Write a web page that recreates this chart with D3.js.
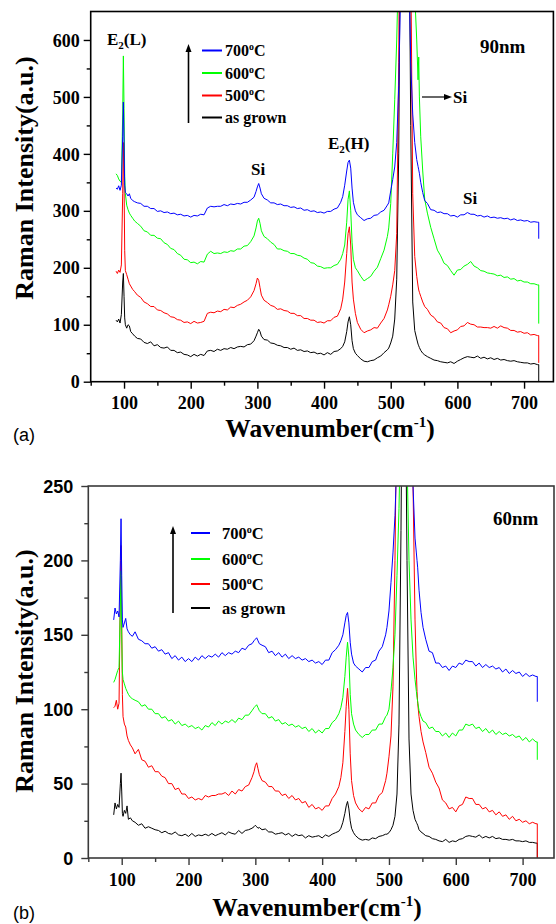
<!DOCTYPE html>
<html>
<head>
<meta charset="utf-8">
<script src="https://cdn.jsdelivr.net/npm/d3@7"></script>
<style>
  body { margin: 0; background: #fff; }
  svg { display: block; }
</style>
</head>
<body>
<svg id="chart" width="556" height="924"></svg>
<script>
// Raman shift grid (cm^-1), shared by every spectrum below
const wavenumber = [
  88,90,92,94,96,98,99,100,101,102,104,106,108,110,113,116,120,
  125,130,135,140,145,150,155,160,165,170,175,180,185,190,195,200,205,210,215,220,225,230,235,240,245,250,255,260,265,270,275,280,285,290,295,
  298,300,302,304,306,310,
  315,320,325,330,335,340,345,350,355,360,365,370,375,380,385,390,395,400,405,410,415,420,
  425,428,431,434,436,438,440,442,444,447,450,
  455,460,465,470,475,480,485,490,495,
  497,500,503,506,509,512,515,518,521,524,527,530,533,536,539,541,542,543,545,548,551,
  555,560,565,570,575,580,585,590,595,600,605,610,615,620,625,630,635,640,645,650,655,660,665,670,675,680,685,690,695,700,705,710,715,720,
  722,722
];

// (a) 90nm film
const a90AsGrown = [
  108,105,110,103,118,175,190,150,112,100,94,100,98,88,84,80,76,
  75,69,67,70,63,65,60,59,61,55, 55,51,52,48,47,44,48,45,48,46, 54,55,53,57,55,58,57,60,58,61, 62,61,65,66,72,
  80,86,92,88,80,74,
  73,68,67,64,63,60,60,57,59,55, 56,53,54,51,52,49,50,47,51,48, 53,54,
  58,62,70,88,105,114,100,72,58,50,46,
  40,36,35,37,38,42,45,51,56,
  59,68,80,110,180,400,900,1600,1800,1500,900,450,140,90,75,66,63,60,55,50,47,
  44,41,38,37,35,34,33,35,32,36, 39,42,44,43,42,45,41,43,40,42, 39,41,38,39,37,36,37,35,34,33, 33,31,32,30,
  30,0
];
const a90T500 = [
  194,190,196,192,205,330,420,350,230,195,188,180,172,168,162,158,152,
  148,140,137,132,132,126,125,121,119,114, 113,109,108,104,105,102,106,103,104,106, 120,122,121,124,123,127,126,131,130,134, 136,140,143,149,160,
  172,182,178,165,152,143,
  139,134,132,127,128,125,124,120,120,116, 116,111,111,108,108,104,105,103,107,107, 113,115,
  128,145,175,225,260,272,240,175,145,120,104,
  92,86,89,91,95,94,103,111,126,
  135,150,170,195,260,560,1100,1700,1900,1700,1200,750,330,220,185,168,161,157,150,140,132,
  127,117,113,105,103,95,93,86,89,91, 97,98,104,101,100,96,96,95,95,94, 97,94,98,95,94,90,90,87,88,85, 86,82,83,81,
  81,33
];
const a90T600 = [
  365,362,356,352,350,470,572,480,360,330,310,302,296,292,287,282,278,
  273,265,263,257,257,252,251,244,241,234, 232,225,222,215,214,209,210,207,211,210, 224,229,225,226,225,228,227,230,229,233, 233,238,239,246,256,
  270,282,287,278,265,255,
  251,245,241,233,233,230,229,225,225,222, 221,217,215,209,208,203,202,199,200,200, 204,206,
  215,225,240,280,320,335,300,245,215,200,195,
  185,177,181,185,194,201,216,231,255,
  270,313,400,495,600,750,1200,1800,2000,1800,1400,1000,800,680,600,530,570,500,430,370,320,
  296,271,251,231,221,208,204,195,187,196, 197,203,206,211,203,200,195,194,191,190, 189,186,187,183,184,180,181,177,178,175, 175,172,172,170,
  170,102
];
const a90T700 = [
  340,338,344,336,345,430,491,420,345,332,330,326,330,322,318,316,314,
  313,308,308,304,304,299,300,297,298,295, 296,293,294,291,292,289,292,291,294,293, 305,308,307,308,308,311,309,312,311,313, 312,315,315,319,324,
  334,342,348,340,330,322,
  319,314,314,311,312,309,309,306,307,304, 305,301,302,299,300,297,298,296,299,299, 303,305,
  315,325,345,370,385,389,375,340,315,300,293,
  288,283,286,287,292,293,298,301,310,
  314,335,355,377,420,520,700,1200,1500,1200,750,560,470,420,390,378,372,366,350,332,318,
  313,302,301,297,298,295,295,291,292,289, 293,293,297,294,294,291,292,289,291,288, 289,287,288,286,287,284,286,283,284,282, 283,280,281,280,
  280,251
];

// (b) 60nm film
const b60AsGrown = [
  29,37,33,36,34,50,57,45,30,28,32,30,35,26,27,25,24,
  22,23,20,21,20,19,18.5,17,18,16.5, 16,17.5,15.5,15,16,14.5,16.5,14.5,15.5,15, 16,15,16.5,15,16,17,15.5,17.5,16.5,16, 18.5,16.5,18.5,19,20,
  21,22,21,20,20.5,19,
  19.5,17.5,17.5,16,16.5,17,15.5,16.5,14.5,16, 15,15.5,13.5,15,14,14.5,15,13.5,15.5,14.5, 16,17,
  18,20,24,30,35,38,33,25,20,17,15,
  13,12,12.5,12,13.5,13,14.5,15,16,
  16,17,19,22,28,43,90,220,400,350,200,80,43,32,26,24,23,22,19,17.5,16.5,
  15,14.5,13,12.5,11.5,11,12.5,10.5,11.5,11, 12.5,13,14.5,15,14.5,14,15.5,13.5,14.5,13.5, 14.5,13,13.5,12.5,12.5,12,12.5,11.5,11.5,11, 11.5,10.5,10.5,10,
  10,0
];
const b60T500 = [
  101,102,106,100,104,180,210,160,110,95,90,88,82,79,76,74,70,
  73,66,65,61,62,58,58,55,54,50, 50,46,47,43,43,40,41,39,40,39, 42,41,42,42,43,43,44,42,45,43, 46,45,48,49,54,
  58,62,64,60,56,52,
  51,48,48,45,45,42,43,40,42,39, 40,37,38,34,36,33,34,32,35,35, 40,43,
  48,54,64,85,102,114,100,70,52,42,37,
  33,31,34,33,37,37,42,44,52,
  57,68,82,115,200,320,420,500,550,500,420,340,290,250,160,125,112,104,95,85,78,
  71,61,57,51,47,39,37,33,34,31, 35,36,41,40,40,36,36,33,34,31, 32,29,31,28,29,26,28,25,26,24, 25,23,24,23,
  23,0
];
const b60T600 = [
  118,120,123,126,128,170,193,150,125,120,117,114,112,110,108,107,106,
  105,102,103,100,100,97,97,94,95,92, 93,90,92,89,90,88,89,87,88,86, 89,88,91,89,92,90,92,91,93,91, 94,93,96,96,99,
  101,102,103,101,99,97,
  97,94,95,92,93,90,91,89,90,88, 89,87,88,85,87,84,86,84,87,87, 91,93,
  97,101,108,122,135,145,135,110,97,90,86,
  83,81,83,83,86,86,90,90,95,
  96,100,112,128,150,190,235,300,400,350,270,200,160,135,120,112,108,105,99,95,92,
  91,87,88,85,85,82,84,81,84,82, 86,86,90,89,90,87,88,85,87,84, 86,83,85,83,84,82,83,81,82,79, 81,78,80,78,
  78,66
];
const b60T700 = [
  160,168,164,166,162,200,228,190,160,155,158,161,154,152,150,149,152,
  147,146,144,144,141,142,139,140,137,138, 134,136,133,135,132,134,132,135,133,136, 134,136,135,137,135,138,136,138,137,139, 138,141,140,143,144,
  146,147,148,146,144,143,
  142,138,139,136,138,135,137,134,136,134, 135,133,134,132,133,131,132,130,133,133, 138,140,
  143,146,150,158,163,165,158,145,137,131,129,
  127,125,128,128,132,133,139,142,150,
  155,166,185,205,230,270,350,450,500,450,370,320,280,250,215,205,200,195,180,165,155,
  147,139,138,131,131,128,129,126,129,128, 131,130,133,132,132,129,131,128,130,128, 129,127,128,125,127,124,126,124,125,122, 124,122,123,122,
  122,105
];

// Legend entries, top to bottom
const legendLabels = ["700", "600", "500", "as grown"];
const legendColors = ["#0000ff", "#00ff00", "#ff0000", "#000000"];

// Axis ticks
const xMajorTicks = [100, 200, 300, 400, 500, 600, 700];
const xMinorTicks = [50, 150, 250, 350, 450, 550, 650];
const yMajorTicksA = [0, 100, 200, 300, 400, 500, 600];
const yMinorTicksA = [50, 150, 250, 350, 450, 550];
const yMajorTicksB = [0, 50, 100, 150, 200, 250];
const yMinorTicksB = [25, 75, 125, 175, 225];

const SERIF = "'Liberation Serif', 'Times New Roman', serif";
const SANS = "'Liberation Sans', Arial, sans-serif";

const svg = d3.select("#chart");
const defs = svg.append("defs");

function drawPanel(cfg) {
  const x = d3.scaleLinear().domain(cfg.xDomain).range([cfg.left, cfg.right]);
  const y = d3.scaleLinear().domain(cfg.yDomain).range([cfg.bottom, cfg.top]);
  const g = svg.append("g");

  defs.append("clipPath").attr("id", "clip-" + cfg.id)
    .append("rect")
    .attr("x", cfg.left).attr("y", cfg.top)
    .attr("width", cfg.right - cfg.left).attr("height", cfg.bottom - cfg.top);

  const line = d3.line().x(d => x(d[0])).y(d => y(d[1]));
  cfg.series.forEach(s => {
    const n = Math.min(wavenumber.length, s.values.length);
    const pts = d3.range(n).map(i => [wavenumber[i], s.values[i]]);
    g.append("path")
      .attr("clip-path", `url(#clip-${cfg.id})`)
      .attr("d", line(pts))
      .attr("fill", "none")
      .attr("stroke", s.color)
      .attr("stroke-width", 1)
      .attr("stroke-linejoin", "round");
  });

  // frame
  g.append("rect")
    .attr("x", cfg.left).attr("y", cfg.top)
    .attr("width", cfg.right - cfg.left).attr("height", cfg.bottom - cfg.top)
    .attr("fill", "none").attr("stroke", cfg.axisColor).attr("stroke-width", 1.6);

  // x axis: major + minor ticks
  const xAx = g.append("g").attr("transform", `translate(0,${cfg.bottom})`)
    .call(d3.axisBottom(x).tickValues(xMajorTicks).tickSize(7).tickFormat(d3.format("d")));
  xAx.select(".domain").remove();
  xAx.selectAll("line").attr("stroke", cfg.axisColor).attr("stroke-width", 1.4);
  xAx.selectAll("text")
    .attr("y", cfg.xLabelOffset).attr("dy", 0)
    .attr("font-family", SERIF).attr("font-weight", "bold").attr("font-size", 18)
    .attr("fill", "#000");
  const xMin = g.append("g").attr("transform", `translate(0,${cfg.bottom})`)
    .call(d3.axisBottom(x).tickValues(xMinorTicks).tickSize(4).tickFormat(""));
  xMin.select(".domain").remove();
  xMin.selectAll("line").attr("stroke", cfg.axisColor).attr("stroke-width", 1.4);

  // y axis: major + minor ticks
  const yAx = g.append("g").attr("transform", `translate(${cfg.left},0)`)
    .call(d3.axisLeft(y).tickValues(cfg.yMajor).tickSize(7).tickFormat(d3.format("d")));
  yAx.select(".domain").remove();
  yAx.selectAll("line").attr("stroke", cfg.axisColor).attr("stroke-width", 1.4);
  yAx.selectAll("text")
    .attr("x", cfg.yLabelOffset).attr("dy", "0.34em")
    .attr("font-family", cfg.yLabelFont).attr("font-weight", "bold").attr("font-size", 18)
    .attr("fill", "#000");
  const yMin = g.append("g").attr("transform", `translate(${cfg.left},0)`)
    .call(d3.axisLeft(y).tickValues(cfg.yMinor).tickSize(4).tickFormat(""));
  yMin.select(".domain").remove();
  yMin.selectAll("line").attr("stroke", cfg.axisColor).attr("stroke-width", 1.4);

  // axis titles
  const xt = g.append("text")
    .attr("x", cfg.xTitleX).attr("y", cfg.xTitleY)
    .attr("text-anchor", "middle")
    .attr("font-family", SERIF).attr("font-weight", "bold").attr("font-size", 25.5)
    .attr("fill", "#000");
  xt.append("tspan").text("Wavenumber(cm");
  xt.append("tspan").text("-1").attr("font-size", 15).attr("dy", -10);
  xt.append("tspan").text(")").attr("dy", 10);

  g.append("text")
    .attr("transform", `translate(${cfg.yTitleX},${cfg.yTitleY}) rotate(-90)`)
    .attr("text-anchor", "middle")
    .attr("font-family", SERIF).attr("font-weight", "bold").attr("font-size", 26)
    .attr("fill", "#000")
    .text("Raman Intensity(a.u.)");

  // panel tag
  g.append("text")
    .attr("x", 13).attr("y", cfg.tagY)
    .attr("font-family", SANS).attr("font-size", 18).attr("fill", "#000")
    .text(cfg.tag);

  // film thickness label
  g.append("text")
    .attr("x", cfg.thickX).attr("y", cfg.thickY)
    .attr("font-family", SERIF).attr("font-weight", "bold").attr("font-size", 19)
    .attr("fill", "#000")
    .text(cfg.thickness);

  // legend with upward arrow
  const lg = cfg.legend;
  g.append("line")
    .attr("x1", lg.arrowX).attr("x2", lg.arrowX)
    .attr("y1", lg.arrowBottom).attr("y2", lg.arrowTip + 6)
    .attr("stroke", "#000").attr("stroke-width", 1.6);
  g.append("path")
    .attr("d", `M${lg.arrowX},${lg.arrowTip} L${lg.arrowX - 3},${lg.arrowTip + 8} L${lg.arrowX + 3},${lg.arrowTip + 8} Z`)
    .attr("fill", "#000");
  legendLabels.forEach((lab, i) => {
    const yy = lg.rowY[i];
    g.append("line")
      .attr("x1", lg.lineX1).attr("x2", lg.lineX2)
      .attr("y1", yy).attr("y2", yy)
      .attr("stroke", legendColors[i]).attr("stroke-width", 2);
    const t = g.append("text")
      .attr("x", lg.textX).attr("y", yy + lg.textDy)
      .attr("font-family", SERIF).attr("font-weight", "bold").attr("font-size", lg.fontSize)
      .attr("fill", "#000");
    if (lab === "as grown") {
      t.text(lab);
    } else {
      t.append("tspan").text(lab);
      t.append("tspan").text("o").attr("font-size", lg.fontSize * 0.62).attr("dy", -6);
      t.append("tspan").text("C").attr("dy", 6);
    }
  });

  return { g, x, y };
}

// (a) 90nm
const pa = drawPanel({
  id: "a",
  left: 90.7, right: 553.4, top: 11.5, bottom: 381.7,
  xDomain: [50, 744], yDomain: [0, 650],
  yMajor: yMajorTicksA, yMinor: yMinorTicksA,
  axisColor: "#000",
  xLabelOffset: 27, yLabelOffset: -11, yLabelFont: SERIF,
  xTitleX: 330, xTitleY: 437,
  yTitleX: 33, yTitleY: 178,
  tag: "(a)", tagY: 441,
  thickness: "90nm", thickX: 480, thickY: 53,
  legend: {
    arrowX: 188.5, arrowTip: 44, arrowBottom: 123,
    lineX1: 202, lineX2: 222, textX: 225, textDy: 5.5, fontSize: 16,
    rowY: [50.5, 73, 95.5, 117.5]
  },
  series: [
    { values: a90AsGrown, color: "#000000" },
    { values: a90T500, color: "#ff0000" },
    { values: a90T600, color: "#00ff00" },
    { values: a90T700, color: "#0000ff" }
  ]
});

// peak assignments for (a)
function peakLabel(g, x, y, main, sub, tail) {
  const t = g.append("text")
    .attr("x", x).attr("y", y)
    .attr("font-family", SERIF).attr("font-weight", "bold").attr("font-size", 17)
    .attr("fill", "#000");
  t.append("tspan").text(main);
  if (sub) {
    t.append("tspan").text(sub).attr("font-size", 11).attr("dy", 4);
    t.append("tspan").text(tail).attr("dy", -4);
  }
}
peakLabel(pa.g, 107, 45, "E", "2", "(L)");
peakLabel(pa.g, 328, 149, "E", "2", "(H)");
peakLabel(pa.g, 251, 175, "Si");
peakLabel(pa.g, 463, 204, "Si");
peakLabel(pa.g, 453, 103, "Si");
pa.g.append("line")
  .attr("x1", 422).attr("x2", 446).attr("y1", 97).attr("y2", 97)
  .attr("stroke", "#000").attr("stroke-width", 1.2);
pa.g.append("path")
  .attr("d", "M452,97 L444,94 L444,100 Z")
  .attr("fill", "#000");

// (b) 60nm
drawPanel({
  id: "b",
  left: 88.3, right: 554, top: 486, bottom: 858,
  xDomain: [50, 747], yDomain: [0, 250],
  yMajor: yMajorTicksB, yMinor: yMinorTicksB,
  axisColor: "#3a3a3a",
  xLabelOffset: 28, yLabelOffset: -15, yLabelFont: SANS,
  xTitleX: 317, xTitleY: 916,
  yTitleX: 33, yTitleY: 671,
  tag: "(b)", tagY: 919,
  thickness: "60nm", thickX: 493, thickY: 525,
  legend: {
    arrowX: 173, arrowTip: 526, arrowBottom: 613,
    lineX1: 191, lineX2: 210, textX: 222, textDy: 6, fontSize: 16.5,
    rowY: [533, 559, 584, 608]
  },
  series: [
    { values: b60AsGrown, color: "#000000" },
    { values: b60T500, color: "#ff0000" },
    { values: b60T600, color: "#00ff00" },
    { values: b60T700, color: "#0000ff" }
  ]
});
</script>
</body>
</html>
